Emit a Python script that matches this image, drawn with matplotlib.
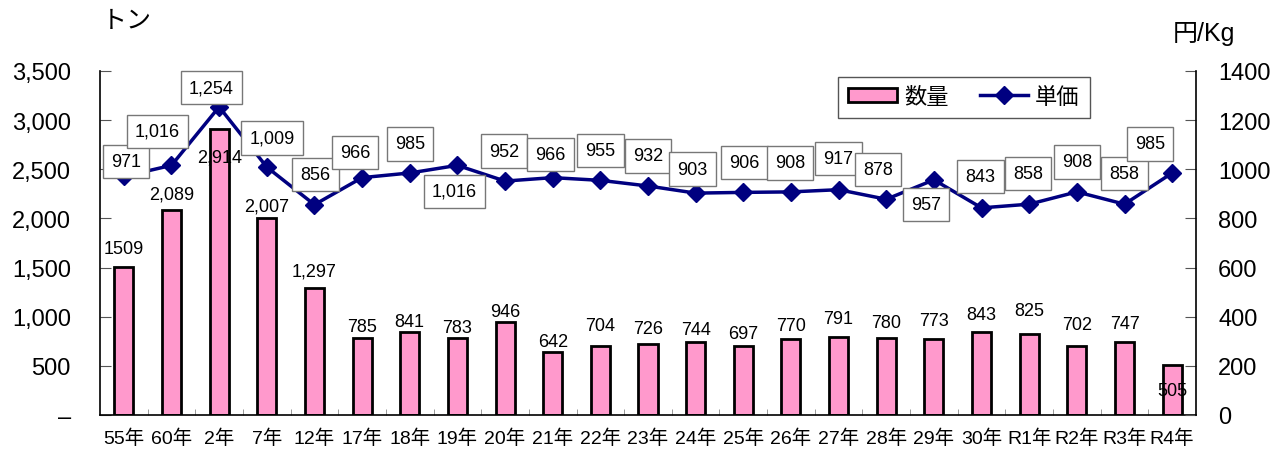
import numpy as np
import matplotlib.pyplot as plt
from matplotlib.ticker import FixedLocator

plt.rcParams['font.family'] = ['Liberation Sans', 'Noto Sans CJK JP']

# dati
anni = ["55年", "60年", "2年", "7年", "12年", "17年", "18年", "19年", "20年", "21年",
        "22年", "23年", "24年", "25年", "26年", "27年", "28年", "29年", "30年",
        "R1年", "R2年", "R3年", "R4年"]
quantita = [1509, 2089, 2914, 2007, 1297, 785, 841, 783, 946, 642, 704, 726, 744,
            697, 770, 791, 780, 773, 843, 825, 702, 747, 505]
etichette_quantita = ["1509"] + [f"{v:,}" for v in quantita[1:]]
prezzo = [971, 1016, 1254, 1009, 856, 966, 985, 1016, 952, 966, 955, 932, 903,
          906, 908, 917, 878, 957, 843, 858, 908, 858, 985]

# spostamento (pixel) delle etichette rispetto alla cima della barra / al marker
spost_quantita = [18, 16, -28, 12, 17, 11, 11, 11, 11, 10, 20, 15, 12, 13, 14, 19,
                  16, 19, 18, 23, 22, 18, -25]
spost_prezzo = [(2, 15), (-14, 34), (-8, 19), (5, 29), (1, 30), (-7, 25), (0, 29),
                (-3, -26), (-1, 30), (-2, 23), (0, 30), (0, 30), (-3, 24), (1, 30),
                (-1, 29), (0, 31), (-8, 30), (-8, -25), (-1, 31), (-1, 31), (0, 30),
                (0, 31), (-22, 29)]

x = np.arange(len(anni))

fig = plt.figure(figsize=(12.87, 4.52), dpi=100)
ax = fig.add_axes([100 / 1287, 36 / 452, 1096 / 1287, 344 / 452])
ax2 = ax.twinx()

ax.bar(x, quantita, width=0.4, color="#FF99CC", edgecolor="black", linewidth=2, zorder=2)
ax.set_xlim(-0.5, len(anni) - 0.5)
ax.set_ylim(0, 3500)
ax.set_yticks(np.arange(0, 3501, 500))
ax.set_yticklabels(["–"] + [f"{v:,}" for v in range(500, 3501, 500)], fontsize=17)
ax.tick_params(axis="y", direction="in", length=8, pad=21, color="#555555")
ax.set_xticks(x)
ax.set_xticklabels(anni, fontsize=14)
ax.tick_params(axis="x", length=0, pad=10)
ax.xaxis.set_minor_locator(FixedLocator(x[:-1] + 0.5))
ax.tick_params(axis="x", which="minor", direction="in", length=4, color="#888888")
ax.spines["top"].set_visible(False)
ax.spines["right"].set_visible(False)
ax.spines["left"].set_linewidth(1.2)
ax.spines["bottom"].set_linewidth(1.2)

for i, v in enumerate(quantita):
    ax.annotate(etichette_quantita[i], (x[i], v), xytext=(0, spost_quantita[i]),
                textcoords="offset pixels", ha="center", va="center", fontsize=13, zorder=3)

ax2.plot(x, prezzo, color="#000080", linewidth=2.5, marker="D", markersize=9, zorder=3)
ax2.set_ylim(0, 1400)
ax2.set_yticks(np.arange(0, 1401, 200))
ax2.tick_params(axis="y", direction="in", length=8, pad=16, labelsize=17, color="#555555")
ax2.spines["top"].set_visible(False)
ax2.spines["left"].set_visible(False)
ax2.spines["bottom"].set_visible(False)
ax2.spines["right"].set_linewidth(1.2)

for i, v in enumerate(prezzo):
    dx, dy = spost_prezzo[i]
    ax2.annotate(f"{v:,}", (x[i], v), xytext=(dx, dy), textcoords="offset pixels",
                 ha="center", va="center", fontsize=13, zorder=5,
                 bbox=dict(boxstyle="square,pad=0.45", fc="white", ec="#777777", lw=1))

# legenda
barra = plt.Rectangle((0, 0), 1, 1, fc="#FF99CC", ec="black", lw=2)
linea, = ax2.plot([], [], color="#000080", linewidth=2.5, marker="D", markersize=9)
leg = ax2.legend([barra, linea], ["数量", "単価"], ncol=2, fontsize=16,
                 loc="center", bbox_to_anchor=(964 / 1287, 1 - 98 / 452),
                 bbox_transform=fig.transFigure, fancybox=False, framealpha=1,
                 edgecolor="#555555", handlelength=2.2, handleheight=0.6,
                 handletextpad=0.3, columnspacing=1.4, borderpad=0.45, borderaxespad=0)
leg.set_zorder(10)
leg.get_frame().set_linewidth(1)

fig.text(102 / 1287, 1 - 21 / 452, "トン", fontsize=18, va="center", ha="left")
fig.text(1204 / 1287, 1 - 34 / 452, "円/Kg", fontsize=18, va="center", ha="center")

fig.savefig("out.png", dpi=100)
